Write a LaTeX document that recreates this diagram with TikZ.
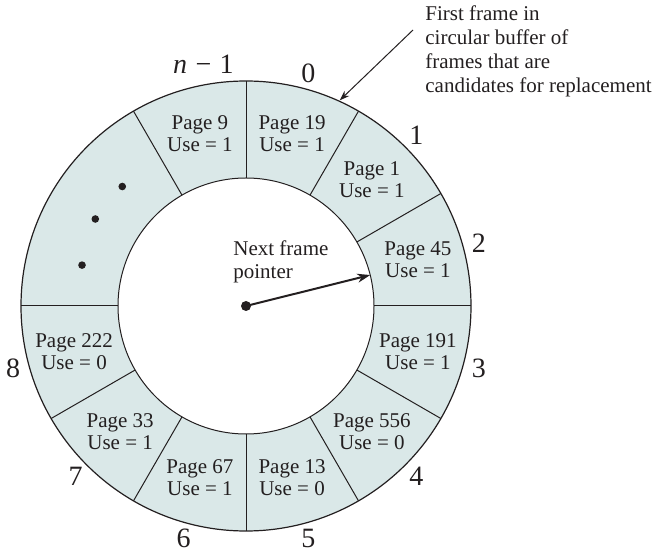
\documentclass[tikz,border=0pt]{standalone}
\usepackage{fontspec}
\setmainfont{Liberation Serif}
\usetikzlibrary{arrows.meta}
\definecolor{ringfill}{RGB}{218,232,232}
\definecolor{ink}{RGB}{35,31,32}
\tikzset{
  pagebox/.style={align=center, inner sep=0pt, text=ink, font=\fontsize{10.5}{11}\selectfont},
  framenum/.style={inner sep=0pt, text=ink, font=\fontsize{14}{16}\selectfont},
  note/.style={align=left, inner sep=0pt, text=ink},
  ringline/.style={draw=ink, line width=0.5pt},
  hub/.style={circle, fill=ink, inner sep=0pt, minimum size=5pt},
}
\begin{document}
\begin{tikzpicture}[x=0.5pt, y=0.5pt, >={Stealth[length=6.5pt,width=4.5pt]}]
    \useasboundingbox (-246,-249) rectangle (410,306);
    % Ring of frames
    \fill[ringfill, even odd rule] (0,0) circle[radius=225] circle[radius=128];
    \draw[ringline, line width=0.6pt] (0,0) circle[radius=225];
    \draw[ringline] (0,0) circle[radius=128];
    % Frame boundaries
    \foreach \a in {-180,-150,...,120}
        \draw[ringline] (\a:128) -- (\a:225);
    % Frame contents and frame numbers
    \foreach \i/\pg/\u in {0/19/1, 1/1/1, 2/45/1, 3/191/1, 4/556/0, 5/13/0, 6/67/1, 7/33/1, 8/222/0} {
        \node[pagebox] (f\i) at ({75-30*\i}:178) {Page \pg\\Use = \u};
        \node[framenum] (n\i) at ({75-30*\i}:241) {\i};
    }
    \node[pagebox] (flast) at (105:178) {Page 9\\Use = 1};
    \node[framenum] (nlast) at (100:245) {\textit{n}\hspace{0.3em}−\hspace{0.3em}1};
    % Frames left out
    \fill[ink] (136:172) circle[radius=3.8];
    \fill[ink] (150:174) circle[radius=3.8];
    \fill[ink] (166:169) circle[radius=3.8];
    % Next frame pointer
    \node[hub] (hub) at (0,0) {};
    \coordinate (ptr) at (14:128);
    \draw[->, draw=ink, line width=1pt] (hub.center) -- (ptr);
    \node[note, anchor=west, font=\fontsize{10.5}{11.5}\selectfont] (nextptr) at (-13,44.5) {Next frame\\pointer};
    % First frame note
    \node[note, anchor=west, font=\fontsize{10.5}{12}\selectfont] (firstnote) at (179,255)
        {First frame in\\circular buffer of\\frames that are\\candidates for replacement};
    \coordinate (tail) at (167,276);
    \coordinate (first) at (65.5:226);
    \draw[->, draw=ink, line width=0.5pt, >={Stealth[length=5pt,width=3.5pt]}] (tail) -- (first);
\end{tikzpicture}
\end{document}
